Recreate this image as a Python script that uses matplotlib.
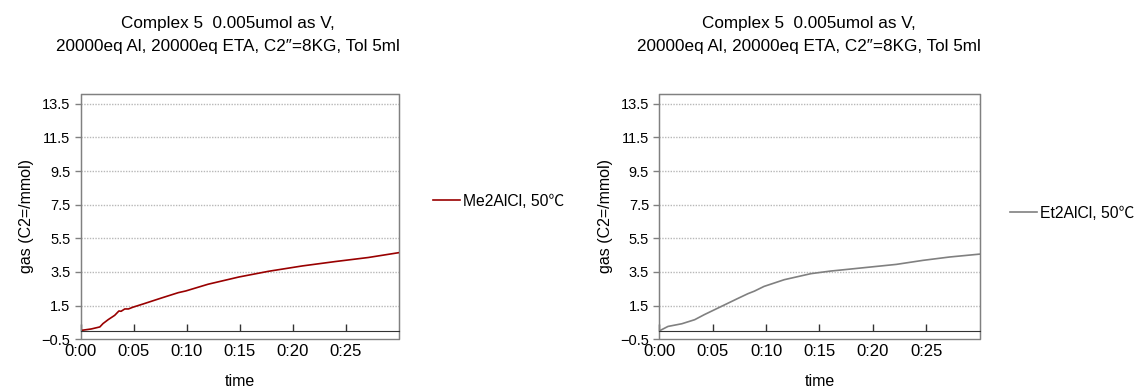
import matplotlib
matplotlib.use("Agg")
import matplotlib.pyplot as plt
from matplotlib.ticker import FixedLocator

plt.rcParams['font.family'] = ['Liberation Sans', 'Noto Sans CJK JP', 'DejaVu Sans']

# time in minutes, gas in mmol
me_time = [0, 1.0, 1.8, 2.1, 2.6, 3.2, 3.6, 3.8, 4.15, 4.5, 4.9, 6.0, 7.6, 9.2, 9.9,
           12.0, 14.9, 17.7, 20.9, 24.0, 27.1, 30.0]
me_gas = [0.02, 0.11, 0.23, 0.43, 0.67, 0.92, 1.18, 1.16, 1.30, 1.30, 1.40, 1.62, 1.95,
          2.27, 2.37, 2.77, 3.20, 3.54, 3.86, 4.12, 4.36, 4.65]

et_time = [0, 0.8, 2.1, 3.3, 4.2, 5.8, 7.3, 8.3, 8.9, 9.8, 11.7, 14.2, 16.0,
           19.1, 22.2, 24.7, 27.2, 30.0]
et_gas = [0.0, 0.26, 0.42, 0.66, 0.96, 1.45, 1.91, 2.21, 2.36, 2.64, 3.04, 3.40,
          3.55, 3.75, 3.95, 4.19, 4.39, 4.56]

x_ticks = [0, 5, 10, 15, 20, 25]
x_labels = ["0:00", "0:05", "0:10", "0:15", "0:20", "0:25"]
y_ticks = [-0.5, 1.5, 3.5, 5.5, 7.5, 9.5, 11.5, 13.5]
y_labels = ["\u22120.5", "1.5", "3.5", "5.5", "7.5", "9.5", "11.5", "13.5"]

title = "Complex 5  0.005umol as V,\n20000eq Al, 20000eq ETA, C2\u2033=8KG, Tol 5ml"

panels = [
    (me_time, me_gas, "#990000", "Me2AlCl, 50\u2103", [0.071, 0.128, 0.280, 0.631], 228 / 1137, (433 / 1137, 1 - 201 / 389)),
    (et_time, et_gas, "#808080", "Et2AlCl, 50\u2103", [0.580, 0.128, 0.2815, 0.631], 809 / 1137, (1010 / 1137, 1 - 213 / 389)),
]

fig = plt.figure(figsize=(11.37, 3.89), dpi=100)

for t, g, color, label, rect, tx, legpos in panels:
    ax = fig.add_axes(rect)
    ax.plot(t, g, color=color, lw=1.2, label=label)
    ax.set_xlim(0, 30)
    ax.set_ylim(-0.5, 14.1)

    for yv in y_ticks[1:]:
        ax.axhline(yv, color="#b8b8b8", lw=1.0, ls=(0, (1, 1)), zorder=0)

    # x axis drawn at zero, frame around the plot area
    ax.spines['bottom'].set_position(('data', 0))
    ax.spines['bottom'].set_color('#333333')
    for s in ['top', 'right', 'left']:
        ax.spines[s].set_color('#808080')
    ax.patch.set_edgecolor('#808080')
    ax.patch.set_linewidth(1.0)

    ax.xaxis.set_major_locator(FixedLocator(x_ticks))
    ax.set_xticklabels(x_labels)
    ax.tick_params(axis='x', direction='in', length=5, width=1, pad=9.5,
                   labelsize=12, color='#333333')
    ax.set_yticks(y_ticks)
    ax.set_yticklabels(y_labels)
    ax.tick_params(axis='y', direction='out', length=4, width=1,
                   labelsize=10.5, color='#808080')

    ax.set_xlabel("time", fontsize=11.5, labelpad=11)
    ax.set_ylabel("gas (C2=/mmol)", fontsize=11.5, labelpad=5)

    fig.text(tx, 1 - 34.7 / 389, title, ha='center', va='center', fontsize=12.3,
             linespacing=1.65)

    ax.legend(loc='center left', bbox_to_anchor=legpos,
              bbox_transform=fig.transFigure, frameon=False, fontsize=11.3,
              handlelength=1.7, handletextpad=0.2, borderpad=0, borderaxespad=0)

fig.savefig("out.png", dpi=100)
